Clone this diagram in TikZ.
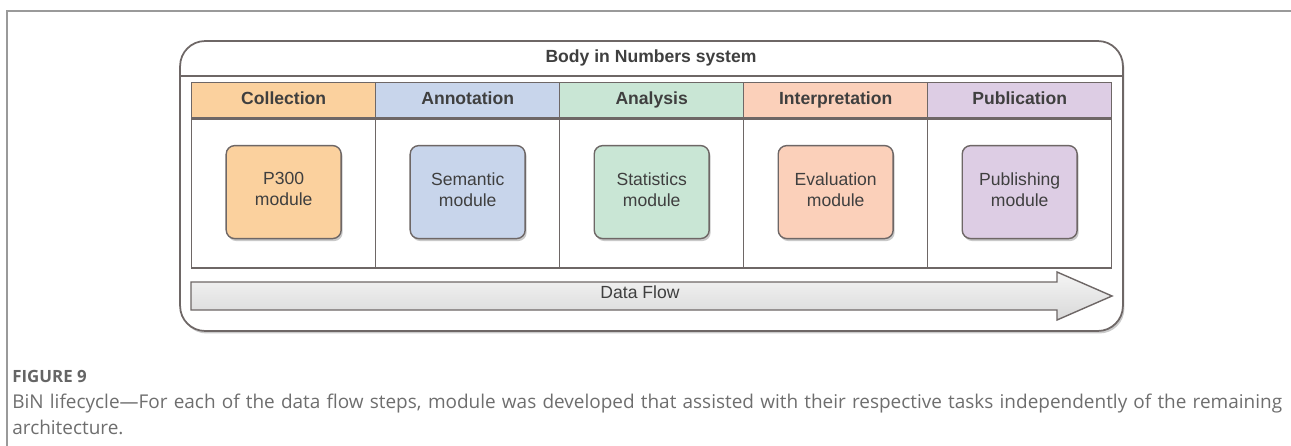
\documentclass[tikz,border=0pt]{standalone}
\usepackage{fontspec}
\setmainfont{Liberation Sans}
\newfontfamily\capfont{Open Sans}
\usetikzlibrary{shadows}

\definecolor{linegray}{HTML}{6E6766}
\definecolor{textgray}{HTML}{3F3F3F}
\definecolor{capgray}{HTML}{6E6E6E}
\definecolor{colorange}{HTML}{FBD19E}
\definecolor{annblue}{HTML}{C8D5EB}
\definecolor{anagreen}{HTML}{C9E6D5}
\definecolor{intsalmon}{HTML}{FBD0BA}
\definecolor{publilac}{HTML}{DDCDE4}

\tikzset{
  boxshadow/.style={drop shadow={shadow xshift=0.03cm,shadow yshift=-0.05cm,opacity=0.35,fill=black!60}},
  headcell/.style={draw=linegray,line width=0.8pt,minimum width=3.68cm,minimum height=0.7cm,
    anchor=north west,inner sep=0pt,font=\bfseries,text=textgray,text height=7.2pt,text depth=2pt},
  bodycell/.style={draw=linegray,line width=0.8pt,minimum width=3.68cm,minimum height=2.98cm,
    anchor=north west,inner sep=0pt},
  modbox/.style={draw=linegray,line width=0.8pt,rounded corners=0.17cm,minimum width=2.3cm,
    minimum height=1.86cm,align=center,text=textgray,boxshadow,text depth=3.2pt},
}

\begin{document}
\begin{tikzpicture}[x=0.02cm,y=-0.02cm]
        \useasboundingbox (0,0) rectangle (1291,446);
        % frame of the figure
        \draw[capgray!70,line width=0.6pt] (1291,11) -- (7,11) -- (7,446);
        % outer system box
        \node[draw=linegray,line width=1pt,rounded corners=0.5cm,fill=white,minimum width=18.86cm,
          minimum height=5.8cm,boxshadow] (bin) at (651.5,186) {};
        \node[font=\bfseries,text=textgray] (title) at (651,58) {Body in Numbers system};
        \draw[linegray,line width=0.8pt] (bin.west |- 0,76) coordinate (tl) -- (bin.east |- 0,76) coordinate (tr);
        % lifecycle columns
        \foreach \i/\nm/\head/\modtext/\col in {0/col/Collection/P300\\module/colorange,
            1/ann/Annotation/Semantic\\module/annblue,
            2/ana/Analysis/Statistics\\module/anagreen,
            3/int/Interpretation/Evaluation\\module/intsalmon,
            4/pub/Publication/Publishing\\module/publilac} {
          \node[headcell,fill=\col] (\nm head) at (191+184*\i,82) {\head};
          \node[bodycell] (\nm cell) at (\nm head.south west) {};
          \node[modbox,fill=\col] (\nm mod) at ([yshift=0.03cm]\nm cell.center) {\modtext};
        }
        % data flow arrow
        \coordinate (fa) at (191,282);
        \coordinate (fb) at (1057,282);
        \coordinate (fc) at (1057,272);
        \coordinate (tip) at (1112,296);
        \coordinate (fd) at (1057,320);
        \coordinate (fe) at (1057,310);
        \coordinate (ff) at (191,310);
        \shade[draw=linegray,line width=0.8pt,top color=gray!8,bottom color=gray!30,line join=miter]
          (fa) -- (fb) -- (fc) -- (tip) -- (fd) -- (fe) -- (ff) -- cycle;
        \node[text=textgray] (flow) at (640,292) {Data Flow};
        % caption
        \node[anchor=west,font=\capfont\fontsize{9.6}{11}\selectfont\bfseries,text=capgray!92!black,inner sep=0pt]
          (fig) at (12,376) {FIGURE 9};
        \node[anchor=north west,inner sep=0pt,text width=25.4cm,align=justify,text=capgray,
          font=\capfont\fontsize{10.8}{14.7}\selectfont] (cap) at (12,394)
          {BiN lifecycle—For each of the data flow steps, module was developed that assisted with their respective tasks independently of the remaining\linebreak architecture.};
    \end{tikzpicture}
\end{document}
